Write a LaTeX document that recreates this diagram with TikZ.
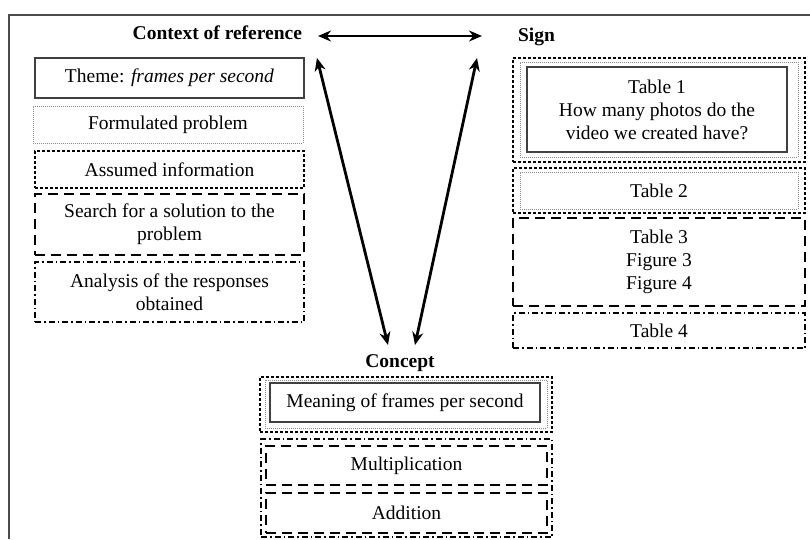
\documentclass[tikz,border=0pt]{standalone}
\usepackage{fontspec}
\setmainfont{Liberation Serif}
\usetikzlibrary{arrows.meta}
\begin{document}
\begin{tikzpicture}[x=1pt,y=-1pt,
  every node/.style={font=\fontsize{19.5}{23}\selectfont, align=center, inner sep=0pt, outer sep=0pt},
  frameline/.style={draw=black!70, line width=1.4pt},
  solidbox/.style={draw=black!75, line width=1.6pt},
  dotbox/.style={draw=black!45, line width=0.9pt, dash pattern=on 1pt off 1pt},
  smalldash/.style={draw=black, line width=1.2pt, dash pattern=on 3pt off 2pt},
  bigdash/.style={draw=black, line width=2.7pt, dash pattern=on 10pt off 6pt},
  dashdotbox/.style={draw=black, line width=1.2pt, dash pattern=on 6pt off 3pt on 1.5pt off 3pt},
  heading/.style={font=\fontsize{19.5}{23}\selectfont\bfseries},
  arr/.style={line width=2.8pt, {Stealth[length=13pt,width=11pt]}-{Stealth[length=13pt,width=11pt]}}
]
\useasboundingbox (0,0) rectangle (810,539);
\fill[white] (0,0) rectangle (810,539);
% frame
\coordinate (f1) at (9,539);
\coordinate (f2) at (9,15);
\coordinate (f3) at (810,15);
\draw[frameline] (f1) -- (f2) -- (f3);

% left column
\node[heading, anchor=east] (ctx) at (302,33) {Context of reference};
\node[solidbox, minimum width=269pt, minimum height=40pt] (theme) at (169.5,78) {Theme: \textit{frames per second}};
\node[dotbox, minimum width=270pt, minimum height=37pt] (form) at (168,124.5) {Formulated problem};
\node[smalldash, minimum width=269pt, minimum height=37pt] (assum) at (169.5,169.5) {Assumed information};
\node[bigdash, minimum width=269pt, minimum height=61pt] (search) at (169.5,224.5) {Search for a solution to the\\problem};
\node[dashdotbox, minimum width=269pt, minimum height=60pt] (anal) at (169.5,292) {Analysis of the responses\\obtained};

% right column
\node[heading, anchor=west] (sign) at (518,37) {Sign};
\node[smalldash, minimum width=292pt, minimum height=104pt] (t1o) at (659,110) {};
\node[dotbox, minimum width=278pt, minimum height=95pt] (t1m) at (659,109.5) {};
\node[solidbox, minimum width=260pt, minimum height=85pt] (t1i) at (657,109.5) {Table 1\\How many photos do the\\video we created have?};
\node[smalldash, minimum width=292pt, minimum height=45pt] (t2o) at (659,190.5) {};
\node[dotbox, minimum width=278pt, minimum height=37pt] (t2i) at (659,190.5) {Table 2};
\node[bigdash, minimum width=292pt, minimum height=88pt] (t3) at (659,262) {Table 3\\Figure 3\\Figure 4};
\node[dashdotbox, minimum width=292pt, minimum height=35pt] (t4) at (659,330.5) {Table 4};

% concept
\node[heading] (concept) at (400,363) {Concept};
\node[smalldash, minimum width=292pt, minimum height=55pt] (mo) at (406,404.5) {};
\node[dotbox, minimum width=282pt, minimum height=48pt] (mm) at (406,404) {};
\node[solidbox, minimum width=270pt, minimum height=39pt] (mi) at (405,402.5) {Meaning of frames per second};
\node[dashdotbox, minimum width=291pt, minimum height=98pt] (cdd) at (406.5,488) {};
\node[bigdash, minimum width=281pt, minimum height=39pt] (mult) at (406.5,465.5) {Multiplication};
\node[bigdash, minimum width=281pt, minimum height=40pt] (add) at (406.5,513) {Addition};

% arrows
\coordinate (hA) at (318,36);
\coordinate (hB) at (482,36);
\coordinate (lA) at (317,58);
\coordinate (lB) at (388,345);
\coordinate (rA) at (477,58);
\coordinate (rB) at (415,345);
\draw[arr] (hA) -- (hB);
\draw[arr] (lA) -- (lB);
\draw[arr] (rA) -- (rB);
\end{tikzpicture}
\end{document}
